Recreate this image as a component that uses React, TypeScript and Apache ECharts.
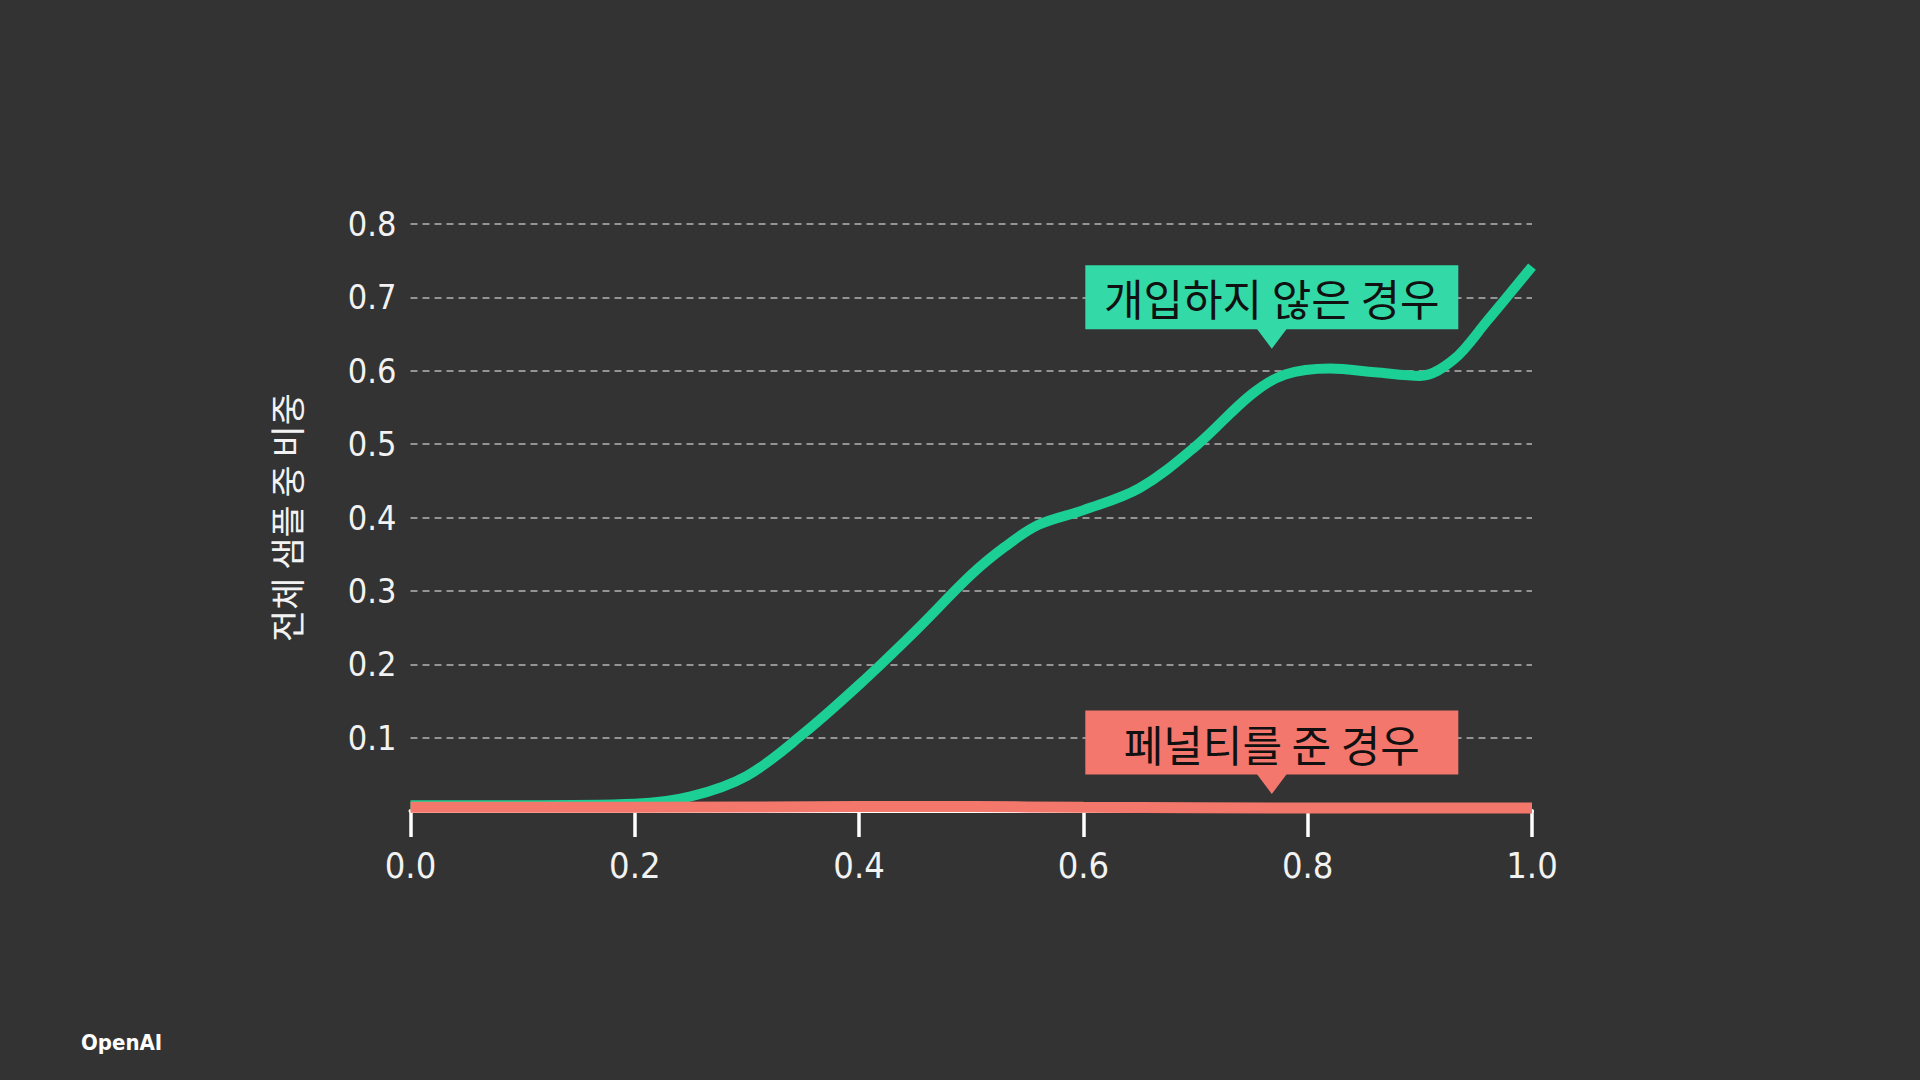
import React, { useEffect, useRef } from "react";
import * as echarts from "echarts";

// ---- data ----
const xTicks = [0, 0.2, 0.4, 0.6, 0.8, 1.0];
const yTicks = [0.1, 0.2, 0.3, 0.4, 0.5, 0.6, 0.7, 0.8];

const noInterventionX = [0, 0.1, 0.2, 0.25, 0.3, 0.35, 0.4, 0.45, 0.5, 0.53, 0.56, 0.6, 0.65, 0.7, 0.75, 0.78, 0.82, 0.86, 0.9, 0.93, 0.96, 1.0];
const noInterventionY = [0.008, 0.008, 0.01, 0.02, 0.048, 0.105, 0.172, 0.245, 0.322, 0.36, 0.39, 0.41, 0.44, 0.497, 0.568, 0.595, 0.603, 0.598, 0.593, 0.615, 0.668, 0.742];

const penaltyX = [0, 0.2, 0.4, 0.5, 0.6, 0.8, 1.0];
const penaltyY = [0.005, 0.005, 0.006, 0.006, 0.005, 0.004, 0.004];

const noInterventionName = "개입하지 않은 경우";
const penaltyName = "페널티를 준 경우";
const yAxisName = "전체 샘플 중 비중";
const brand = "OpenAI";

// callout anchor points (data space)
const noInterventionCallout = [0.768, 0.63];
const penaltyCallout = [0.768, 0.023];

const GREEN_LINE = "#1ccf94";
const GREEN_BOX = "#33d9a7";
const RED_LINE = "#f4776b";
const RED_BOX = "#f4776d";
const BG = "#333333";
const NUM_FONT = "'DejaVu Sans Condensed', 'Liberation Sans Narrow', 'Roboto', sans-serif";
const KR_FONT = "'Noto Sans CJK KR', 'Noto Sans', sans-serif";

export default function App() {
  const ref = useRef<HTMLDivElement>(null);

  useEffect(() => {
    if (!ref.current) return;
    const chart = echarts.init(ref.current, undefined, { renderer: "svg" });

    const zip = (xs: number[], ys: number[]) => xs.map((x, i) => [x, ys[i]]);

    chart.setOption({
      animation: false,
      backgroundColor: BG,
      grid: { left: 410.5, right: 388, top: 224, bottom: 269, containLabel: false },
      xAxis: {
        type: "value",
        min: 0,
        max: 1,
        interval: 0.2,
        offset: 5,
        axisLine: { show: true, lineStyle: { color: "#ffffff", width: 4 } },
        axisTick: { show: true, length: 26, lineStyle: { color: "#ffffff", width: 3.5 } },
        splitLine: { show: false },
        axisLabel: {
          color: "#f2f2f2",
          fontFamily: NUM_FONT,
          fontSize: 36,
          margin: 31,
          formatter: (v: number) => (xTicks.some((t) => Math.abs(t - v) < 1e-9) ? v.toFixed(1) : ""),
        },
      },
      yAxis: {
        type: "value",
        min: 0,
        max: 0.8,
        interval: 0.1,
        name: yAxisName,
        nameLocation: "middle",
        nameRotate: 90,
        nameGap: 108,
        nameTextStyle: { color: "#f2f2f2", fontFamily: KR_FONT, fontSize: 35 },
        axisLine: { show: false },
        axisTick: { show: false },
        axisLabel: {
          color: "#f2f2f2",
          fontFamily: NUM_FONT,
          fontSize: 34,
          margin: 14,
          formatter: (v: number) => (yTicks.some((t) => Math.abs(t - v) < 1e-9) ? v.toFixed(1) : ""),
        },
        splitLine: {
          show: true,
          lineStyle: { color: "#b5b5b5", width: 1.5, type: [7, 5] },
        },
      },
      series: [
        {
          name: noInterventionName,
          type: "line",
          data: zip(noInterventionX, noInterventionY),
          smooth: 0.35,
          showSymbol: false,
          lineStyle: { color: GREEN_LINE, width: 10, cap: "butt" },
          z: 3,
        },
        {
          name: penaltyName,
          type: "line",
          data: zip(penaltyX, penaltyY),
          smooth: 0.3,
          showSymbol: false,
          lineStyle: { color: RED_LINE, width: 11, cap: "butt" },
          z: 4,
        },
      ],
    });

    const callout = (anchor: number[], text: string, color: string) => {
      const p = chart.convertToPixel({ gridIndex: 0 }, anchor) as number[];
      return {
        type: "group",
        x: p[0],
        y: p[1],
        z: 100,
        children: [
          { type: "rect", shape: { x: -186.5, y: -83.5, width: 373, height: 64 }, style: { fill: color } },
          { type: "polygon", shape: { points: [[-15, -20], [15, -20], [0, 0]] }, style: { fill: color } },
          {
            type: "text",
            x: 0,
            y: -51.5,
            style: {
              text,
              fill: "#111111",
              font: `43px ${KR_FONT}`,
              align: "center",
              verticalAlign: "middle",
            },
          },
        ],
      };
    };

    chart.setOption({
      graphic: [
        callout(noInterventionCallout, noInterventionName, GREEN_BOX),
        callout(penaltyCallout, penaltyName, RED_BOX),
        {
          type: "text",
          left: 81,
          top: 1031,
          z: 100,
          style: {
            text: brand,
            fill: "#ffffff",
            font: `bold 22px ${NUM_FONT}`,
          },
        },
      ],
    });

    return () => chart.dispose();
  }, []);

  return (
    <div
      ref={ref}
      style={{ position: "fixed", left: 0, top: 0, width: 1920, height: 1080, background: BG }}
    />
  );
}
